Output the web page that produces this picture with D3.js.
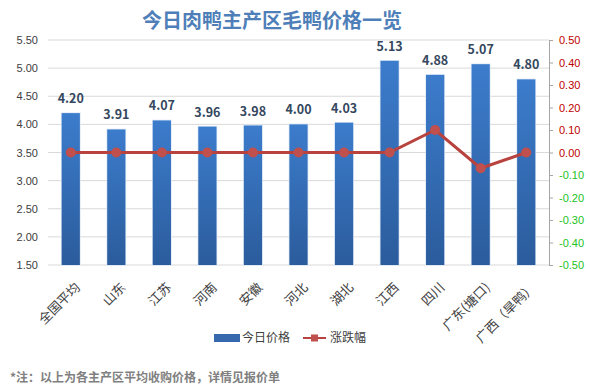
<!DOCTYPE html>
<html lang="zh">
<head>
<meta charset="utf-8">
<script src="https://d3js.org/d3.v7.min.js"></script>
<style>
  body { margin: 0; background: #fff; }
  svg { display: block; font-family: "Noto Sans CJK SC", "Noto Sans", sans-serif; }
</style>
</head>
<body>
<svg id="chart"></svg>
<script>
// chart data
const regions = ["全国平均", "山东", "江苏", "河南", "安徽", "河北", "湖北", "江西", "四川", "广东(塘口)", "广西（旱鸭）"];
const prices = [4.20, 3.91, 4.07, 3.96, 3.98, 4.00, 4.03, 5.13, 4.88, 5.07, 4.80];
const changes = [0, 0, 0, 0, 0, 0, 0, 0, 0.10, -0.07, 0];
const leftTicks = [1.5, 2.0, 2.5, 3.0, 3.5, 4.0, 4.5, 5.0, 5.5];
const rightTicks = [-0.5, -0.4, -0.3, -0.2, -0.1, 0, 0.1, 0.2, 0.3, 0.4, 0.5];

let width = 590, height = 389;
let margin = {top: 40, left: 48, right: 549, bottom: 265};

let svg = d3.select("#chart").attr("width", width).attr("height", height);

let x = d3.scaleBand().domain(regions).range([margin.left, margin.right]).paddingInner(0.6).paddingOuter(0.3);
let y = d3.scaleLinear().domain([1.5, 5.5]).range([margin.bottom, margin.top]);
let y2 = d3.scaleLinear().domain([-0.5, 0.5]).range([margin.bottom, margin.top]);

// gradient for the bars
let defs = svg.append("defs");
let grad = defs.append("linearGradient").attr("id", "barGrad")
    .attr("x1", 0).attr("y1", 0).attr("x2", 0).attr("y2", 1);
grad.append("stop").attr("offset", "0%").attr("stop-color", "#3c7ccc");
grad.append("stop").attr("offset", "100%").attr("stop-color", "#2b5c9c");

// title
svg.append("text")
    .attr("x", 272).attr("y", 28)
    .attr("text-anchor", "middle")
    .style("font-size", "20px").style("font-weight", "bold")
    .style("fill", "#4f7fb8")
    .text("今日肉鸭主产区毛鸭价格一览");

// gridlines
svg.append("g")
    .selectAll("line")
    .data(leftTicks)
    .enter().append("line")
    .attr("x1", margin.left).attr("x2", margin.right)
    .attr("y1", d => y(d)).attr("y2", d => y(d))
    .style("stroke", "#d9d9d9").style("stroke-width", 1);

// left axis
let leftAxis = svg.append("g")
    .attr("transform", "translate(" + margin.left + ",0)")
    .call(d3.axisLeft(y).tickValues(leftTicks).tickFormat(d3.format(".2f")).tickSize(0).tickPadding(10));
leftAxis.select(".domain").remove();
leftAxis.selectAll("text").style("font-size", "11px").style("fill", "#404040").style("font-family", "inherit");

// right axis
let rightAxis = svg.append("g")
    .attr("transform", "translate(" + margin.right + ",0)")
    .call(d3.axisRight(y2).tickValues(rightTicks).tickFormat(d3.format(".2f")).tickSize(4).tickSizeOuter(4).tickPadding(6));
rightAxis.select(".domain").style("stroke", "#a6a6a6");
rightAxis.selectAll(".tick line").style("stroke", "#a6a6a6");
rightAxis.selectAll("text")
    .style("font-size", "11px").style("font-family", "inherit")
    .style("fill", d => d < 0 ? "#22c322" : "#c00000")
    .text(d => d3.format(".2f")(d).replace("−", "-"));

// bars
svg.append("g")
    .selectAll("rect")
    .data(prices)
    .enter().append("rect")
    .attr("x", (d, i) => x(regions[i]))
    .attr("y", d => y(d))
    .attr("width", x.bandwidth())
    .attr("height", d => y(1.5) - y(d))
    .style("fill", "url(#barGrad)")
    .style("stroke", "#dce8f6").style("stroke-width", 1.5).style("paint-order", "stroke");

// value labels
svg.append("g")
    .selectAll("text")
    .data(prices)
    .enter().append("text")
    .attr("x", (d, i) => x(regions[i]) + x.bandwidth() / 2)
    .attr("y", d => y(d) - 10)
    .attr("text-anchor", "middle")
    .style("font-size", "12.5px").style("font-weight", "bold")
    .style("fill", "#34475e")
    .text(d => d3.format(".2f")(d));

// change line
let line = d3.line()
    .x((d, i) => x(regions[i]) + x.bandwidth() / 2)
    .y(d => y2(d));
svg.append("path")
    .datum(changes)
    .attr("d", line)
    .style("fill", "none").style("stroke", "#b8433e").style("stroke-width", 3);
svg.append("g")
    .selectAll("circle")
    .data(changes)
    .enter().append("circle")
    .attr("cx", (d, i) => x(regions[i]) + x.bandwidth() / 2)
    .attr("cy", d => y2(d))
    .attr("r", 5)
    .style("fill", "#c0504d");

// category labels, rotated
svg.append("g")
    .selectAll("text")
    .data(regions)
    .enter().append("text")
    .attr("transform", d => "translate(" + (x(d) + x.bandwidth() / 2 + 7) + "," + (margin.bottom + 20) + ") rotate(-45)")
    .attr("text-anchor", "end")
    .attr("dy", "0.35em")
    .style("font-size", "13px").style("fill", "#404040")
    .text(d => d);

// legend
let legend = svg.append("g").attr("transform", "translate(214,338)");
legend.append("rect").attr("x", 0).attr("y", -4).attr("width", 26).attr("height", 8).style("fill", "#3568ad");
legend.append("text").attr("x", 28).attr("y", 0).attr("dy", "0.35em")
    .style("font-size", "12px").style("fill", "#404040").text("今日价格");
legend.append("line").attr("x1", 89).attr("x2", 112).attr("y1", 0).attr("y2", 0)
    .style("stroke", "#b8433e").style("stroke-width", 2);
legend.append("rect").attr("x", 97).attr("y", -3.5).attr("width", 7).attr("height", 7).style("fill", "#c0504d");
legend.append("text").attr("x", 116).attr("y", 0).attr("dy", "0.35em")
    .style("font-size", "12px").style("fill", "#404040").text("涨跌幅");

// footnote
svg.append("text")
    .attr("x", 10).attr("y", 382)
    .style("font-size", "12px").style("font-weight", "bold").style("fill", "#808080")
    .text("*注：以上为各主产区平均收购价格，详情见报价单");
</script>
</body>
</html>
